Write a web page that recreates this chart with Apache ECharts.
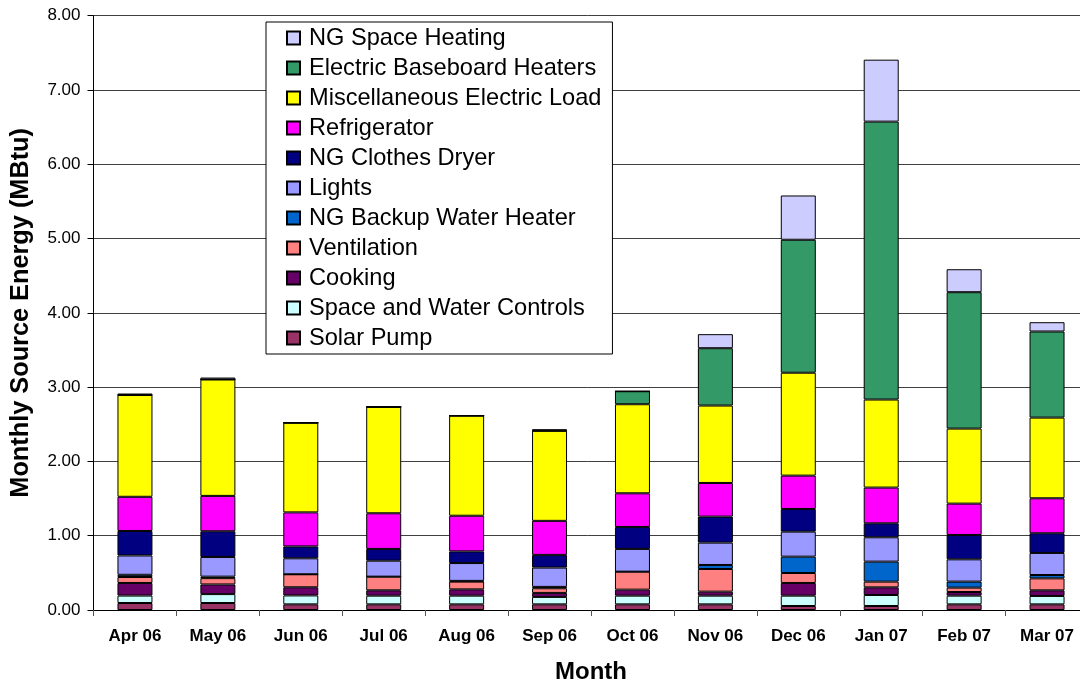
<!DOCTYPE html>
<html>
<head>
<meta charset="utf-8">
<script src="https://cdn.jsdelivr.net/npm/echarts@6/dist/echarts.min.js"></script>
<style>
html,body{margin:0;padding:0;background:#fff;}
#chart{width:1080px;height:682px;}
</style>
</head>
<body>
<div id="chart"></div>
<script>
const months = ['Apr 06','May 06','Jun 06','Jul 06','Aug 06','Sep 06','Oct 06','Nov 06','Dec 06','Jan 07','Feb 07','Mar 07'];
const yTicks = [0,1,2,3,4,5,6,7,8];

const solarPump       = [0.094,0.094,0.076,0.076,0.076,0.076,0.076,0.076,0.054,0.054,0.076,0.076];
const controls        = [0.100,0.120,0.120,0.117,0.117,0.100,0.117,0.117,0.139,0.148,0.117,0.113];
const cooking         = [0.170,0.130,0.110,0.072,0.085,0.054,0.081,0.054,0.171,0.103,0.049,0.076];
const ventilation     = [0.080,0.085,0.175,0.184,0.104,0.063,0.242,0.305,0.134,0.077,0.059,0.161];
const waterHeater     = [0.030,0.020,0.000,0.000,0.010,0.018,0.000,0.054,0.220,0.269,0.081,0.045];
const lights          = [0.260,0.265,0.215,0.215,0.240,0.260,0.306,0.301,0.337,0.328,0.300,0.297];
const clothesDryer    = [0.330,0.346,0.160,0.158,0.157,0.171,0.296,0.350,0.305,0.188,0.328,0.265];
const refrigerator    = [0.460,0.476,0.458,0.480,0.480,0.458,0.453,0.453,0.449,0.481,0.422,0.471];
const miscElectric    = [1.370,1.567,1.207,1.432,1.347,1.212,1.199,1.042,1.385,1.185,1.010,1.086];
const baseboard       = [0,0,0,0,0,0,0.175,0.772,1.790,3.741,1.836,1.159];
const spaceHeating    = [0.020,0.026,0,0,0,0.022,0,0.189,0.596,0.834,0.309,0.125];

const seriesDefs = [
  ['Solar Pump', solarPump, '#993366'],
  ['Space and Water Controls', controls, '#CCFFFF'],
  ['Cooking', cooking, '#660066'],
  ['Ventilation', ventilation, '#FF8080'],
  ['NG Backup Water Heater', waterHeater, '#0066CC'],
  ['Lights', lights, '#9999FF'],
  ['NG Clothes Dryer', clothesDryer, '#000080'],
  ['Refrigerator', refrigerator, '#FF00FF'],
  ['Miscellaneous Electric Load', miscElectric, '#FFFF00'],
  ['Electric Baseboard Heaters', baseboard, '#339966'],
  ['NG Space Heating', spaceHeating, '#CCCCFF']
];

const FONT = "'Liberation Sans', Arial, sans-serif";
const chart = echarts.init(document.getElementById('chart'), null, {renderer:'canvas'});

chart.setOption({
  animation: false,
  backgroundColor: '#fff',
  textStyle: {fontFamily: FONT},
  grid: {left: 93.5, top: 15.7, width: 995, height: 594.3, containLabel: false, outerBoundsMode: 'none'},
  legend: {
    orient: 'vertical',
    left: 266, top: 22,
    padding: [1, 11, 1, 20],
    backgroundColor: '#fff',
    borderColor: '#000',
    borderWidth: 1,
    borderRadius: 0,
    itemWidth: 13, itemHeight: 13,
    itemGap: 0,
    icon: 'rect',
    textStyle: {fontFamily: FONT, fontSize: 23.6, color: '#000', lineHeight: 30, padding: [0,0,0,4]},
    data: seriesDefs.map(d => d[0]).reverse()
  },
  xAxis: {
    type: 'category',
    data: months,
    name: 'Month',
    nameLocation: 'middle',
    nameGap: 50,
    nameTextStyle: {fontFamily: FONT, fontSize: 24, fontWeight: 'bold', color: '#000'},
    axisLine: {lineStyle: {color: '#000', width: 1}},
    axisTick: {show: true, length: 6, lineStyle: {color: '#555'}},
    axisLabel: {fontFamily: FONT, fontSize: 17, fontWeight: 'bold', color: '#000', margin: 18, interval: 0},
    splitLine: {show: false}
  },
  yAxis: {
    type: 'value',
    min: yTicks[0], max: yTicks[yTicks.length-1], interval: 1,
    name: 'Monthly Source Energy (MBtu)',
    nameLocation: 'middle',
    nameGap: 60,
    nameTextStyle: {fontFamily: FONT, fontSize: 25.3, fontWeight: 'bold', color: '#000'},
    axisLine: {show: true, lineStyle: {color: '#000', width: 1}},
    axisTick: {show: true, length: 6, lineStyle: {color: '#000'}},
    axisLabel: {fontFamily: FONT, fontSize: 17, color: '#000', margin: 13, formatter: v => v.toFixed(2)},
    splitLine: {show: true, lineStyle: {color: '#404040', width: 1}}
  },
  series: seriesDefs.map(d => ({
    name: d[0],
    type: 'bar',
    stack: 'total',
    barWidth: 35,
    data: d[1],
    itemStyle: {color: d[2], borderColor: '#000', borderWidth: 1},
    emphasis: {disabled: true}
  }))
});
</script>
</body>
</html>
